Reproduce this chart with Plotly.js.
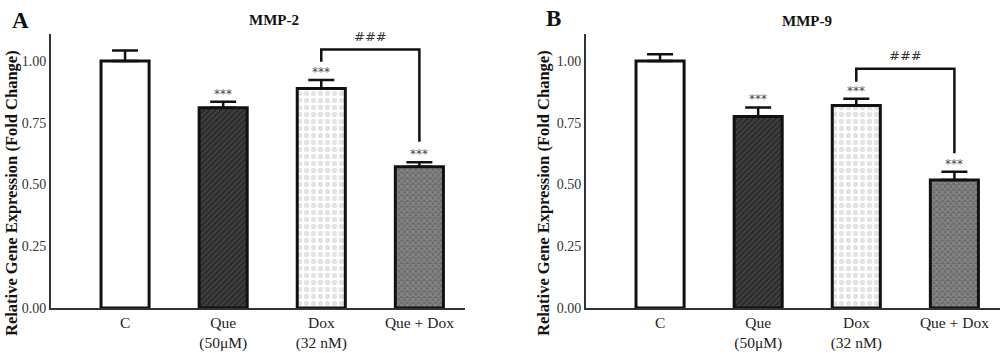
<!DOCTYPE html>
<html>
<head>
<meta charset="utf-8">
<script src="https://cdn.plot.ly/plotly-3.0.1.min.js"></script>
<style>html,body{margin:0;padding:0;background:#fff}#chart{width:1000px;height:353px}</style>
</head>
<body>
<div id="chart"></div>
<script>
// ---- data ----
var categories = ["C", "Que<br>(50\u03bcM)", "Dox<br>(32 nM)", "Que + Dox"];
var mmp2Values = [1.00, 0.811, 0.888, 0.572];
var mmp2Errors = [0.042, 0.024, 0.035, 0.018];
var mmp9Values = [1.00, 0.775, 0.820, 0.518];
var mmp9Errors = [0.027, 0.037, 0.027, 0.033];
var mmp2Stars = ["", "***", "***", "***"];
var mmp9Stars = ["", "***", "***", "***"];
var yTicks = [0, 0.25, 0.5, 0.75, 1.0];
// bracket: [left leg end, top, top, right leg end] between Dox and Que + Dox
var bracketCats = ["Dox<br>(32 nM)", "Dox<br>(32 nM)", "Que + Dox", "Que + Dox"];
var mmp2Bracket = [0.997, 1.046, 1.046, 0.673];
var mmp9Bracket = [0.916, 0.968, 0.968, 0.626];
var bracketLabel = "###";
var panelTitles = ["MMP-2", "MMP-9"];
var panelLetters = ["A", "B"];
var yTitle = "Relative Gene Expression (Fold Change)";

// ---- styles ----
var serif = "Liberation Serif, Times New Roman, serif";
var barStyles = [
  { bg: "#ffffff", fg: "#ffffff", shape: "",  size: 6, solidity: 0.3 },
  { bg: "#2b2b2b", fg: "#5e5e5e", shape: "/", size: 4, solidity: 0.4 },
  { bg: "#ffffff", fg: "#c8c8c8", shape: ".", size: 7, solidity: 0.45 },
  { bg: "#6a6a6a", fg: "#a9a9a9", shape: "x", size: 4, solidity: 0.5 }
];

var data = [];
function addBars(vals, errs, xa, ya) {
  for (var i = 0; i < categories.length; i++) {
    var s = barStyles[i];
    data.push({
      type: "bar", x: [categories[i]], y: [vals[i]], xaxis: xa, yaxis: ya,
      width: 0.49,
      marker: { color: s.bg, line: { color: "#111", width: 3 },
                pattern: { shape: s.shape, fgcolor: s.fg, bgcolor: s.bg, size: s.size, solidity: s.solidity, fillmode: "overlay" } },
      error_y: { type: "data", array: [errs[i]], arrayminus: [0], symmetric: false,
                 color: "#111", thickness: 2.5, width: 13 },
      showlegend: false, hoverinfo: "x+y"
    });
  }
}
function addBracket(ys, xa, ya) {
  data.push({ type: "scatter", mode: "lines", x: bracketCats, y: ys, xaxis: xa, yaxis: ya,
           line: { color: "#111", width: 2.5 }, showlegend: false, hoverinfo: "skip", cliponaxis: false });
}
addBars(mmp2Values, mmp2Errors, "x", "y");
addBracket(mmp2Bracket, "x", "y");
addBars(mmp9Values, mmp9Errors, "x2", "y2");
addBracket(mmp9Bracket, "x2", "y2");

var annotations = [];
function addStars(vals, errs, stars, xr, yr) {
  for (var i = 0; i < categories.length; i++) {
    if (!stars[i]) continue;
    annotations.push({ x: categories[i], y: vals[i] + errs[i], xref: xr, yref: yr, text: stars[i],
      showarrow: false, xanchor: "center", yanchor: "bottom", yshift: -1,
      font: { family: "DejaVu Sans, sans-serif", size: 12, color: "#4a4a4a" } });
  }
}
addStars(mmp2Values, mmp2Errors, mmp2Stars, "x", "y");
addStars(mmp9Values, mmp9Errors, mmp9Stars, "x2", "y2");
annotations.push({ x: 2.5, y: mmp2Bracket[1], xref: "x", yref: "y", text: bracketLabel, showarrow: false,
  xanchor: "center", yanchor: "bottom", yshift: 4, font: { family: "DejaVu Sans, sans-serif", size: 13, color: "#333" } });
annotations.push({ x: 2.5, y: mmp9Bracket[1], xref: "x2", yref: "y2", text: bracketLabel, showarrow: false,
  xanchor: "center", yanchor: "bottom", yshift: 4, font: { family: "DejaVu Sans, sans-serif", size: 13, color: "#333" } });

function paperText(px, py, text, size, angle) {
  annotations.push({ x: px/1000, y: 1 - py/353, xref: "paper", yref: "paper", text: text, textangle: angle || 0,
    xanchor: "center", yanchor: "middle", showarrow: false, font: { family: serif, size: size, color: "#111" } });
}
// panel titles & letters
paperText(274, 20, "<b>" + panelTitles[0] + "</b>", 15);
paperText(807, 21, "<b>" + panelTitles[1] + "</b>", 15);
paperText(20, 20, "<b>" + panelLetters[0] + "</b>", 23);
paperText(553, 19, "<b>" + panelLetters[1] + "</b>", 23);
// y-axis titles (rotated)
paperText(11, 193, "<b>" + yTitle + "</b>", 16.5, -90);
paperText(543, 193, "<b>" + yTitle + "</b>", 16.5, -90);

function xAxis(dom, anchor) {
  return { domain: dom, anchor: anchor, type: "category", range: [-0.755, 3.465], showline: true, linecolor: "#333", linewidth: 2,
           ticks: "", showgrid: false, zeroline: false, ticklabelstandoff: -1,
           tickfont: { family: serif, size: 15.5, color: "#222" } };
}
function yAxis(anchor) {
  return { domain: [45/353, 1 - 34/353], range: [0, 1.109], anchor: anchor, tickvals: yTicks, tickformat: ".2f",
           showline: true, linecolor: "#333", linewidth: 2, ticks: "", showgrid: false, zeroline: false,
           tickfont: { family: serif, size: 14, color: "#333" } };
}

var layout = {
  width: 1000, height: 353, margin: { l: 0, r: 0, t: 0, b: 0 },
  paper_bgcolor: "#fff", plot_bgcolor: "#fff",
  barmode: "overlay",
  xaxis: xAxis([51/1000, 465/1000], "y"),
  yaxis: yAxis("x"),
  xaxis2: xAxis([586/1000, 1], "y2"),
  yaxis2: yAxis("x2"),
  annotations: annotations
};

Plotly.newPlot("chart", data, layout, { staticPlot: true });
</script>
</body>
</html>
